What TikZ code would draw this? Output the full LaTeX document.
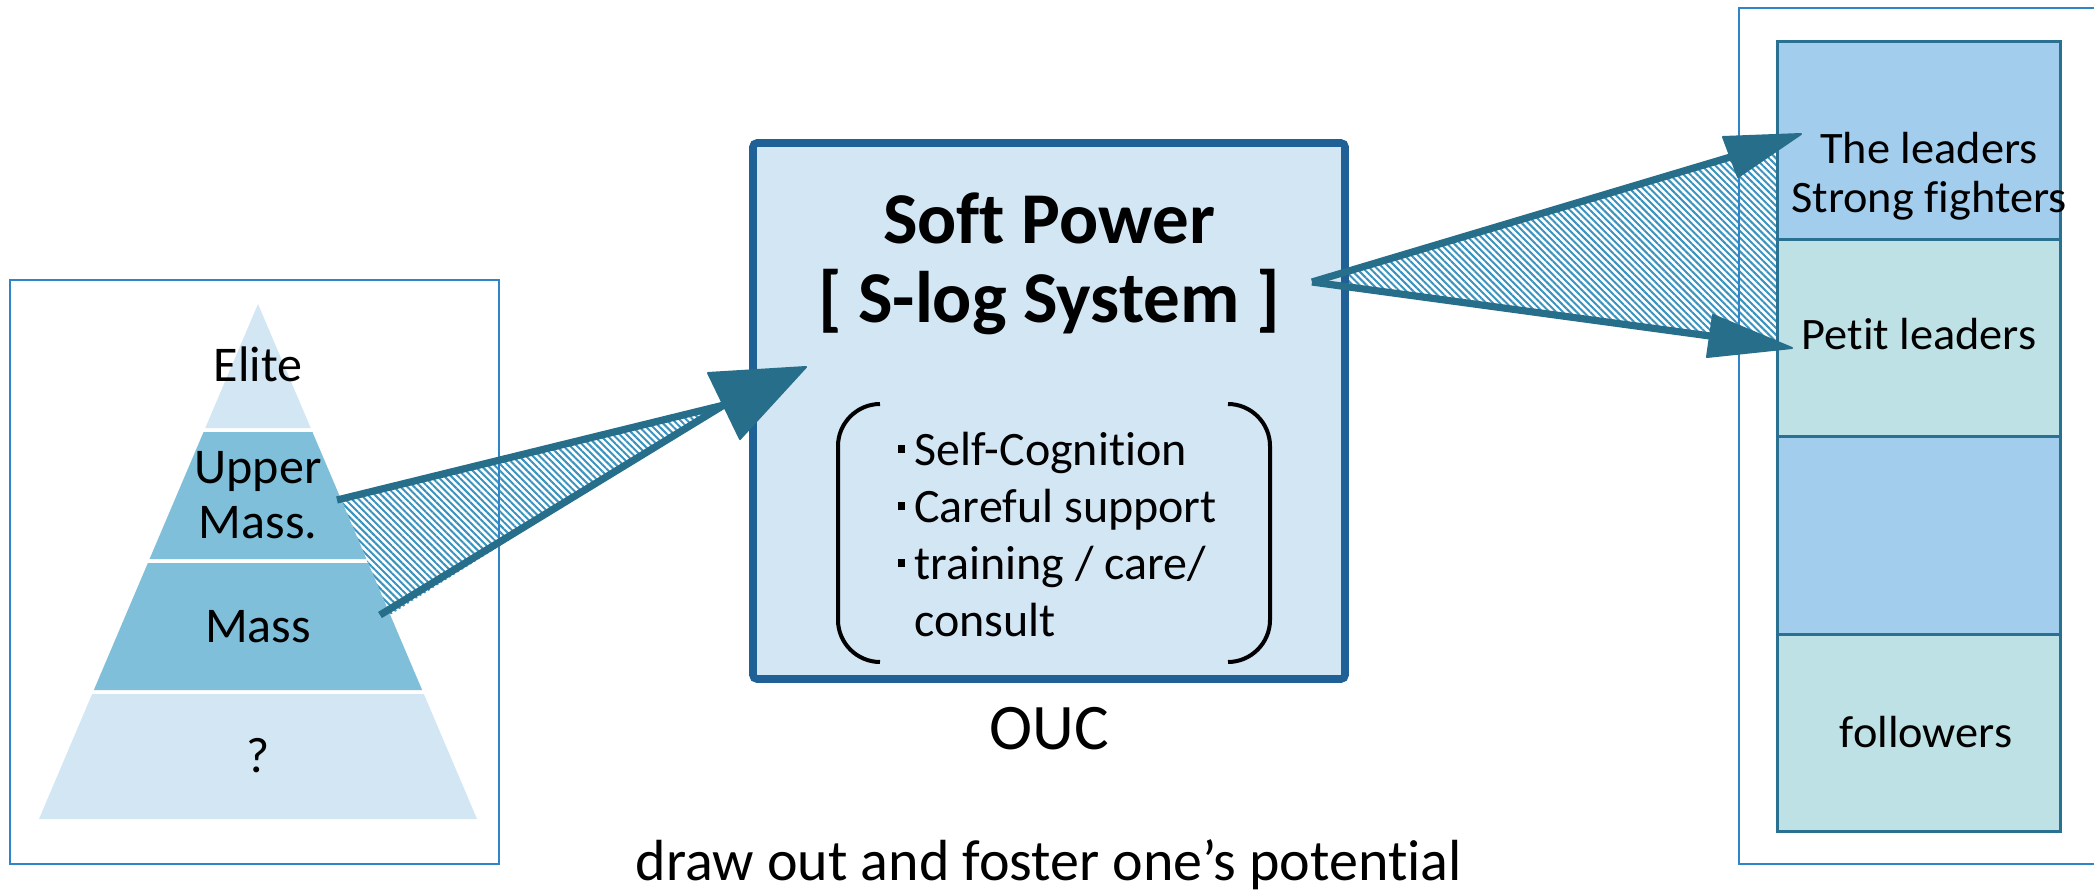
\documentclass[tikz,border=0pt]{standalone}
\usepackage{fontspec}
\setmainfont{Carlito}[Ligatures={NoCommon}]
\newfontfamily\widefont{Carlito}[FakeStretch=1.03,Ligatures={NoCommon}]
\usetikzlibrary{patterns.meta}
\definecolor{arrowc}{HTML}{276E8A}
\definecolor{hatchc}{HTML}{3A92BE}
\definecolor{boxb}{HTML}{1F6096}
\definecolor{boxf}{HTML}{D2E6F4}
\definecolor{framec}{HTML}{2E86C8}
\definecolor{pyrlight}{HTML}{D2E6F4}
\definecolor{pyrmid}{HTML}{80BFDA}
\definecolor{colblue}{HTML}{A3CDED}
\definecolor{colteal}{HTML}{BDE1E4}
\definecolor{colborder}{HTML}{2A7090}
\newcommand{\sqbul}{\llap{\raisebox{6pt}{\rule{3.8pt}{3.8pt}}\hspace{4.6pt}}}
\begin{document}
\begin{tikzpicture}[x=0.5pt,y=-0.5pt,
  hatch/.style={pattern={Lines[angle=-45,distance=2.4pt,line width=1pt]},pattern color=hatchc},
  framebox/.style={draw=framec,line width=1.3pt,rectangle,inner sep=0pt},
  centerbox/.style={draw=boxb,fill=boxf,line width=3.8pt,rounded corners=2pt,rectangle,inner sep=0pt},
  band/.style={draw=colborder,line width=1.5pt,rectangle,inner sep=0pt,minimum width=141.25pt,minimum height=98.75pt},
  arrowline/.style={draw=arrowc,line width=3.6pt},
  arrowhead/.style={fill=arrowc,draw=arrowc,line width=1pt,line join=round},
  bracket/.style={draw=black,line width=2pt},
  txt/.style={inner sep=0pt,anchor=base,align=center}]
\clip (0,0) rectangle (2094,894);
\fill[white] (0,0) rectangle (2094,894);

% hatched wedges
\path[hatch] (341.3,500) -- (724,405) -- (390,615) -- cycle;
\path[hatch] (1312,282) -- (1777,146) -- (1777,344) -- cycle;

% outer frames
\node[framebox,minimum width=244.5pt,minimum height=292pt] (leftframe) at (254.5,572) {};
\node[framebox,minimum width=185.5pt,minimum height=428pt] (rightframe) at (1924.5,436) {};

% pyramid
\fill[pyrlight] (258,304) -- (310.73,428) -- (205.27,428) -- cycle;
\fill[pyrmid] (203.57,432) -- (312.43,432) -- (366.44,559) -- (149.56,559) -- cycle;
\fill[pyrmid] (147.86,563) -- (368.14,563) -- (422.14,690) -- (93.86,690) -- cycle;
\fill[pyrlight] (92.16,694) -- (423.84,694) -- (477,819) -- (39,819) -- cycle;

% centre box
\node[centerbox,minimum width=296pt,minimum height=268pt] (soft) at (1049,411) {};

% column of groups
\node[band,fill=colblue] (b1) at (1918.75,140.25) {};
\node[band,fill=colteal] (b2) at (1918.75,337.75) {};
\node[band,fill=colblue] (b3) at (1918.75,535.25) {};
\node[band,fill=colteal] (b4) at (1918.75,732.75) {};

% brackets
\draw[bracket] (880,404) .. controls (857,404) and (838,423) .. (838,446) -- (838,620) .. controls (838,643) and (857,662) .. (880,662);
\draw[bracket] (1228,404) .. controls (1251,404) and (1270,423) .. (1270,446) -- (1270,620) .. controls (1270,643) and (1251,662) .. (1228,662);

% arrow 1
\coordinate (a1s) at (337,500);
\coordinate (a1t) at (380,615);
\coordinate (a1m) at (724,405);
\coordinate (a1tip) at (806,367);
\coordinate (a1c1) at (708,373);
\coordinate (a1c2) at (740,439);
\draw[arrowline] (a1s) -- (a1m);
\draw[arrowline] (a1t) -- (a1m);
\filldraw[arrowhead] (a1c1) -- (a1tip) -- (a1c2) -- cycle;

% arrow 2
\coordinate (a2s) at (1312,282);
\coordinate (a2u) at (1730.5,157);
\coordinate (a2d) at (1710,336);
\coordinate (a2utip) at (1801,134);
\coordinate (a2uc1) at (1723,137);
\coordinate (a2uc2) at (1738,177);
\coordinate (a2dtip) at (1792,348);
\coordinate (a2dc1) at (1713,315);
\coordinate (a2dc2) at (1707,357);
\draw[arrowline] (a2s) -- (a2u);
\draw[arrowline] (a2s) -- (a2d);
\filldraw[arrowhead] (a2uc1) -- (a2utip) -- (a2uc2) -- cycle;
\filldraw[arrowhead] (a2dc1) -- (a2dtip) -- (a2dc2) -- cycle;

% pyramid texts
\node[txt,font=\fontsize{25pt}{27.5pt}\selectfont] (elite) at (258,381) {Elite};
\node[txt,font=\fontsize{25pt}{27.5pt}\selectfont] (upper) at (258,483) {\begin{tabular}[t]{@{}c@{}}Upper\\Mass.\end{tabular}};
\node[txt,font=\fontsize{25pt}{27.5pt}\selectfont] (mass) at (258,642) {Mass};
\node[txt,font=\fontsize{25pt}{27.5pt}\selectfont] (unknown) at (258,772) {?};

% centre texts
\node[txt,font=\bfseries\fontsize{36.5pt}{39.5pt}\selectfont] (title) at (1049,243) {\begin{tabular}[t]{@{}c@{}}Soft Power\\{[} S-log System ]\end{tabular}};
\node[inner sep=0pt,anchor=base west,font=\fontsize{24pt}{28.5pt}\selectfont] (list) at (914,465) {\begin{tabular}[t]{@{}l@{}}\sqbul Self-Cognition\\\sqbul Careful support\\\sqbul training / care/\\consult\end{tabular}};
\node[txt,font=\fontsize{32.5pt}{36pt}\selectfont] (ouclabel) at (1049,749) {OUC};
\node[txt,font=\fontsize{29pt}{33pt}\selectfont] (motto) at (1049,880) {draw out and foster one’s potential};

% column texts
\node[txt,font=\widefont\fontsize{22.5pt}{24.8pt}\selectfont] (leaders) at (1929,163) {\begin{tabular}[t]{@{}c@{}}The leaders\\Strong fighters\end{tabular}};
\node[txt,font=\widefont\fontsize{22.5pt}{24.8pt}\selectfont] (petit) at (1919,349) {Petit leaders};
\node[txt,font=\widefont\fontsize{22.5pt}{24.8pt}\selectfont] (followers) at (1926,747) {followers};
\end{tikzpicture}
\end{document}
